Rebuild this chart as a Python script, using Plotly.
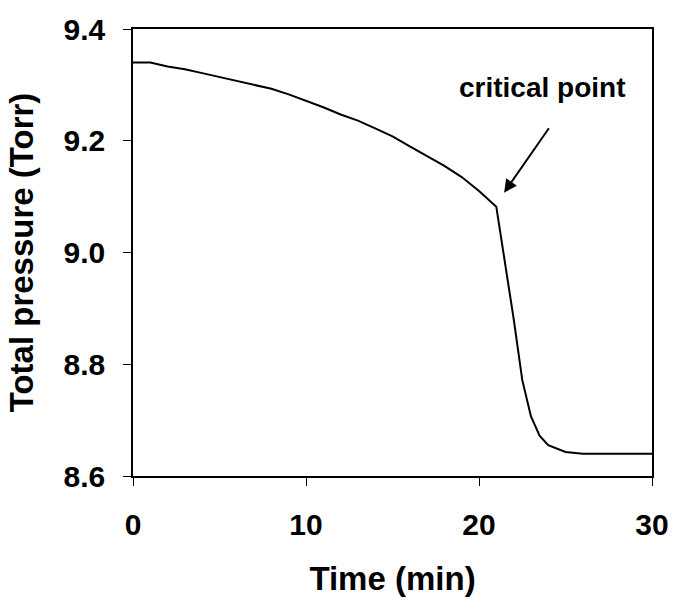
import plotly.graph_objects as go

# Pressure decay during the run
time_min = [0, 1, 2, 3, 4, 5, 6, 7, 8, 9, 10, 11, 12, 13, 14, 15, 16, 17, 18,
            19, 20, 21, 22, 22.5, 23, 23.5, 24, 25, 26, 27, 28, 29, 30]
pressure_torr = [9.340, 9.340, 9.333, 9.328, 9.321, 9.314, 9.307, 9.300, 9.293,
                 9.283, 9.272, 9.260, 9.247, 9.236, 9.222, 9.208, 9.190, 9.173,
                 9.155, 9.135, 9.110, 9.082, 8.882, 8.772, 8.707, 8.672, 8.655,
                 8.643, 8.640, 8.640, 8.640, 8.640, 8.640]

x_ticks = [0, 10, 20, 30]
y_ticks = [8.6, 8.8, 9.0, 9.2, 9.4]

# Annotation: label position and arrow tail/tip
label_text = "critical point"
label_xy = (23.65, 9.295)
arrow_tail = (24.1, 9.225)
arrow_tip = (21.45, 9.107)

FONT = "Liberation Sans, Arial, sans-serif"

fig = go.Figure()
fig.add_trace(go.Scatter(
    x=time_min, y=pressure_torr, mode="lines",
    line=dict(color="black", width=2),
    showlegend=False, hoverinfo="skip",
))

fig.add_annotation(
    x=arrow_tip[0], y=arrow_tip[1], xref="x", yref="y",
    ax=arrow_tail[0], ay=arrow_tail[1], axref="x", ayref="y",
    text="", showarrow=True, arrowhead=2, arrowsize=1.3,
    arrowwidth=2, arrowcolor="black",
)
fig.add_annotation(
    x=label_xy[0], y=label_xy[1], xref="x", yref="y",
    text=label_text, showarrow=False,
    font=dict(family=FONT, size=28, color="black", weight="bold"),
)

axis_common = dict(
    showgrid=False, zeroline=False, showline=True, linecolor="black",
    linewidth=1.5, mirror=True, ticks="outside", ticklen=8, tickwidth=1,
    tickcolor="black",
    tickfont=dict(family=FONT, size=30, color="black", weight="bold"),
)

fig.update_xaxes(
    range=[0, 30], tickvals=x_ticks, ticklabelstandoff=13,
    title=dict(text="Time (min)", standoff=27,
               font=dict(family=FONT, size=33, color="black", weight="bold")),
    **axis_common,
)
fig.update_yaxes(
    range=[8.6, 9.4], tickvals=y_ticks, tickformat=".1f", ticklabelstandoff=12,
    title=dict(text="Total pressure (Torr)", standoff=20,
               font=dict(family=FONT, size=33, color="black", weight="bold")),
    **axis_common,
)

fig.update_layout(
    width=681, height=603,
    margin=dict(l=133, r=24, t=27, b=126),
    plot_bgcolor="white", paper_bgcolor="white",
)

fig.write_html("out.html")
